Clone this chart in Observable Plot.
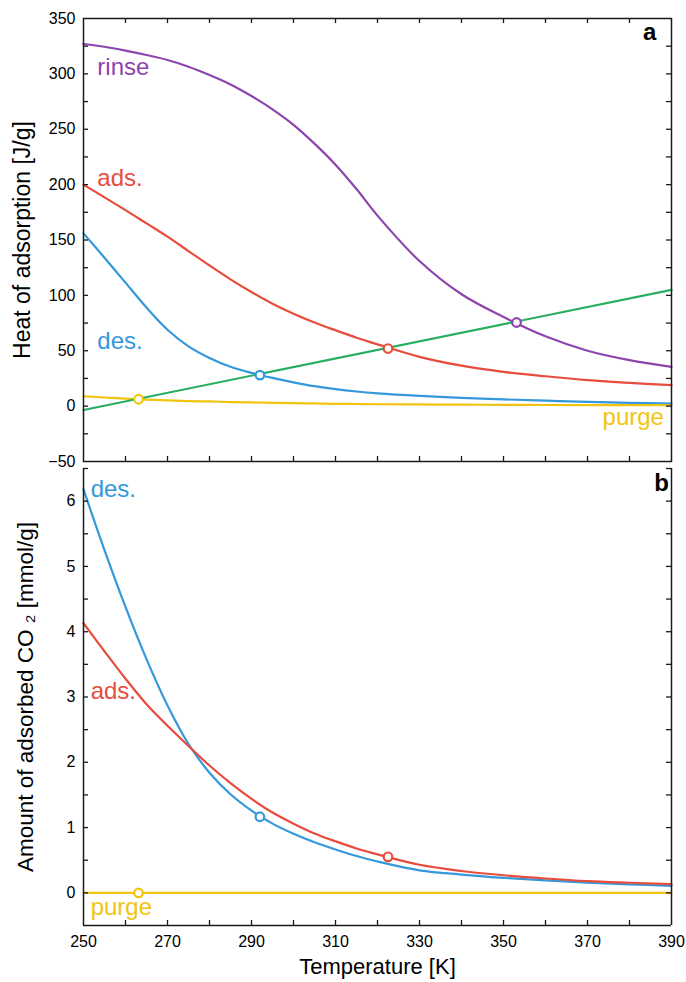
<!DOCTYPE html>
<html><head><meta charset="utf-8">
<script src="https://cdn.jsdelivr.net/npm/d3@7"></script>
<script src="https://cdn.jsdelivr.net/npm/@observablehq/plot@0.6"></script>
<style>
html,body{margin:0;padding:0;background:#fff;}
#chart svg{display:block;}
</style></head><body><div id="chart"></div>
<script>
// ---------- data ----------
const temps = [250,255,260,265,270,275,280,285,290,295,300,305,310,315,320,330,340,350,360,370,380,390];

// panel a: heat of adsorption [J/g]
const heatRinse = [327,324.5,321,317,312.5,306.5,299,290.5,280,268,254,237,218,196,172,131,101,80.5,63,50,41.5,35.5];
const heatAds   = [200,188.5,177,165,153,140,127,114.5,103,92.5,83.5,75.5,68.5,61.8,55.8,44.5,36.5,31,27,23.5,21,19];
const heatDes   = [156,134,111.5,89,69,54,43.5,35.5,30,25.5,21.5,18,15.3,13.2,11.6,9.3,7.5,6.1,4.9,3.9,3.0,2.3];
const heatPurge = [8.9,7.8,6.8,5.9,5.2,4.6,4.2,3.7,3.3,3.0,2.7,2.4,2.1,1.9,1.7,1.5,1.3,1.2,1.0,0.9,0.85,0.8];
const greenT = [250, 390];
const greenV = [-3.5, 105];

// panel b: amount of adsorbed CO2 [mmol/g]
const amtDes   = [6.18,5.25,4.38,3.58,2.87,2.28,1.84,1.51,1.26,1.06,0.905,0.775,0.665,0.565,0.48,0.345,0.28,0.23,0.19,0.157,0.13,0.107];
const amtAds   = [4.13,3.70,3.28,2.89,2.56,2.25,1.95,1.68,1.44,1.23,1.06,0.91,0.79,0.68,0.59,0.43,0.335,0.27,0.22,0.18,0.155,0.133];
const purgeT = [250, 390];
const purgeAmt = [0, 0];

// intersection markers
const markSeries = ["purge","des","ads","rinse"];
const markT      = [263.1, 292, 322.5, 353.1];
const markHeat   = [6.2, 28, 52, 75.5];
const markAmt    = [0, 1.166, 0.552, null];

// inline labels
const labelTextA = ["rinse","ads.","des."];
const labelTA    = [253.3, 253.3, 253.3];
const labelVA    = [299, 199, 52];
const labelTextB = ["des.","ads.","purge"];
const labelTB    = [251.7, 251.7, 251.7];
const labelVB    = [6.07, 2.97, -0.34];

// axes
const xDomain = [250, 390];
const xTickLabels = [250,270,290,310,330,350,370,390];
const xMinor = [260,270,280,290,300,310,320,330,340,350,360,370,380];
const yDomainA = [-50, 350];
const yTickLabelsA = [-50,0,50,100,150,200,250,300,350];
const yMinorA = [-25,0,25,50,75,100,125,150,175,200,225,250,275,300,325];
const yDomainB = [-0.5, 6.5];
const yTickLabelsB = [0,1,2,3,4,5,6];
const yMinorB = [0,0.5,1,1.5,2,2.5,3,3.5,4,4.5,5,5.5,6,6.5];

// ---------- style ----------
const colors = {rinse:"#8e44ad", ads:"#e74c3c", des:"#3498db", purge:"#f1c40f", green:"#27ae60"};
const FONT = "'Liberation Sans', Arial, Helvetica, sans-serif";
const W = 686, ML = 83, MR = 15;
const FW = W - ML - MR;
const TICK = 5;
const AXC = "#1a1a1a";
const CURVE = "catmull-rom";

const toRows = (ts, vs, s) => ts.map((t, i) => ({T: t, v: vs[i], s, c: colors[s]}));

const linesA = [
  ...toRows(temps, heatRinse, "rinse"),
  ...toRows(temps, heatAds, "ads"),
  ...toRows(temps, heatDes, "des"),
  ...toRows(temps, heatPurge, "purge"),
  ...toRows(greenT, greenV, "green")
];
const linesB = [
  ...toRows(temps, amtDes, "des"),
  ...toRows(temps, amtAds, "ads"),
  ...toRows(purgeT, purgeAmt, "purge")
];
const dotsA = markSeries.map((s, i) => ({T: markT[i], v: markHeat[i], c: colors[s]}));
const dotsB = markSeries.map((s, i) => ({T: markT[i], v: markAmt[i], c: colors[s]})).filter(d => d.v != null);
const labA = labelTextA.map((t, i) => ({T: labelTA[i], v: labelVA[i], t, c: colors[["rinse","ads","des"][i]]}));
const labB = labelTextB.map((t, i) => ({T: labelTB[i], v: labelVB[i], t, c: colors[["des","ads","purge"][i]]}));

function tickMarks(fh, yMinor, top) {
  const m = [
    Plot.tickX(xMinor, {x: d => d, insetTop: fh - TICK, stroke: AXC, strokeWidth: 1.3}),
    Plot.tickY(yMinor, {y: d => d, insetRight: FW - TICK, stroke: AXC, strokeWidth: 1.3}),
    Plot.tickY(yMinor, {y: d => d, insetLeft: FW - TICK, stroke: AXC, strokeWidth: 1.3})
  ];
  if (top) m.push(Plot.tickX(xMinor, {x: d => d, insetBottom: fh - TICK, stroke: AXC, strokeWidth: 1.3}));
  return m;
}

// ---------- panel a ----------
const HA = 463, MTA = 18, MBA = 2;
const plotA = Plot.plot({
  width: W, height: HA, marginLeft: ML, marginRight: MR, marginTop: MTA, marginBottom: MBA,
  style: {fontFamily: FONT, fontSize: "16px", color: "black", background: "white", overflow: "visible"},
  x: {domain: xDomain, axis: null},
  y: {domain: yDomainA},
  color: {type: "identity"},
  marks: [
    Plot.line(linesA, {x: "T", y: "v", z: "s", stroke: "c", strokeWidth: 2.2, curve: CURVE}),
    Plot.dot(dotsA, {x: "T", y: "v", stroke: "c", fill: "white", r: 4.3, strokeWidth: 2.2}),
    ...tickMarks(HA - MTA - MBA, yMinorA, true),
    Plot.frame({stroke: AXC, strokeWidth: 1.5}),
    Plot.axisY(yTickLabelsA, {tickSize: 0, tickPadding: 8, fontSize: 16, label: null}),
    Plot.text(labA, {x: "T", y: "v", text: "t", fill: "c", textAnchor: "start", lineAnchor: "bottom", fontSize: 24}),
    Plot.text(["purge"], {x: 388.2, y: -17.3, text: d => d, fill: colors.purge, textAnchor: "end", lineAnchor: "bottom", fontSize: 24}),
    Plot.text(["a"], {x: 386.4, y: 330.5, text: d => d, textAnchor: "end", lineAnchor: "bottom", fontSize: 24, fontWeight: "bold"}),
    Plot.text(["Heat of adsorption [J/g]"], {text: d => d, frameAnchor: "left", dx: 13 - ML, rotate: -90, textAnchor: "middle", lineAnchor: "top", fontSize: 23})
  ]
});

// ---------- panel b ----------
const HB = 982 - HA, MTB = 5, MBB = 57;
const plotB = Plot.plot({
  width: W, height: HB, marginLeft: ML, marginRight: MR, marginTop: MTB, marginBottom: MBB,
  style: {fontFamily: FONT, fontSize: "16px", color: "black", background: "white", overflow: "visible"},
  x: {domain: xDomain},
  y: {domain: yDomainB},
  color: {type: "identity"},
  marks: [
    Plot.line(linesB, {x: "T", y: "v", z: "s", stroke: "c", strokeWidth: 2.2, curve: CURVE}),
    Plot.dot(dotsB, {x: "T", y: "v", stroke: "c", fill: "white", r: 4.3, strokeWidth: 2.2}),
    ...tickMarks(HB - MTB - MBB, yMinorB, false),
    Plot.ruleX(xDomain, {stroke: AXC, strokeWidth: 1.5}),
    Plot.ruleY([yDomainB[0]], {stroke: AXC, strokeWidth: 1.5}),
    Plot.axisY(yTickLabelsB, {tickSize: 0, tickPadding: 8, fontSize: 16, label: null, tickFormat: d => String(d)}),
    Plot.axisX(xTickLabels, {tickSize: 0, tickPadding: 10, fontSize: 16, label: null, tickFormat: d => String(d)}),
    Plot.text(labB, {x: "T", y: "v", text: "t", fill: "c", textAnchor: "start", lineAnchor: "bottom", fontSize: 24}),
    Plot.text(["b"], {x: 389.4, y: 6.15, text: d => d, textAnchor: "end", lineAnchor: "bottom", fontSize: 24, fontWeight: "bold"}),
    Plot.text(["Amount of adsorbed CO \u2082 [mmol/g]"], {text: d => d, frameAnchor: "left", dx: 17 - ML, rotate: -90, textAnchor: "middle", lineAnchor: "top", fontSize: 22.5}),
    Plot.text(["Temperature [K]"], {text: d => d, frameAnchor: "bottom", dy: 48.5, lineAnchor: "bottom", fontSize: 22})
  ]
});

const root = document.getElementById("chart");
root.appendChild(plotA);
root.appendChild(plotB);
</script>
</body></html>
